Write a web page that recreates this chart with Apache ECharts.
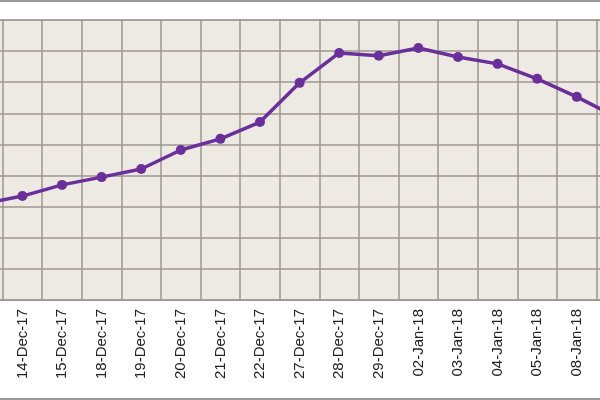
<!DOCTYPE html>
<html>
<head>
<meta charset="utf-8">
<script src="https://cdn.jsdelivr.net/npm/echarts@6/dist/echarts.min.js"></script>
<style>
  html, body { margin: 0; padding: 0; background: #fff; }
  #wrap { position: relative; width: 600px; height: 400px; overflow: hidden; }
  #chart { position: absolute; left: -36.6px; top: 0; width: 680px; height: 400px; }
  .edge { position: absolute; left: 0; width: 600px; height: 2px; background: #999; }
</style>
</head>
<body>
<div id="wrap">
  <div id="chart"></div>
  <div class="edge" style="top:0"></div>
  <div class="edge" style="bottom:0"></div>
</div>
<script>
// dates (first and last fall outside the visible crop)
const categories = ['13-Dec-17', '14-Dec-17', '15-Dec-17', '18-Dec-17', '19-Dec-17', '20-Dec-17',
  '21-Dec-17', '22-Dec-17', '27-Dec-17', '28-Dec-17', '29-Dec-17', '02-Jan-18', '03-Jan-18',
  '04-Jan-18', '05-Jan-18', '08-Jan-18', '09-Jan-18']
// values in grid units (y axis labels are cut off in the reference)
const values = [3.09, 3.34, 3.70, 3.95, 4.21, 4.82, 5.18, 5.72, 6.98, 7.94, 7.85, 8.10, 7.81,
  7.59, 7.11, 6.53, 5.88]

const chart = echarts.init(document.getElementById('chart'))

const gridColor = '#9c978e'

chart.setOption({
  animation: false,
  backgroundColor: '#fff',
  grid: {
    left: 0, top: 20, width: 673.2, height: 280,
    show: true, backgroundColor: '#eceae2', borderColor: gridColor, borderWidth: 1
  },
  xAxis: {
    type: 'category',
    data: categories,
    axisLine: { lineStyle: { color: gridColor } },
    axisTick: { show: false },
    splitLine: { show: true, lineStyle: { color: gridColor, width: 1.5 } },
    axisLabel: {
      rotate: 90, interval: 0, margin: 9,
      fontFamily: 'Liberation Sans', fontSize: 15, color: '#222'
    }
  },
  yAxis: {
    type: 'value', min: 0, max: 9, interval: 1,
    axisLabel: { show: false },
    axisLine: { show: false },
    axisTick: { show: false },
    splitLine: { lineStyle: { color: gridColor, width: 1.5 } }
  },
  series: [{
    type: 'line',
    data: values,
    symbol: 'circle',
    symbolSize: 10,
    lineStyle: { color: '#6b2f9c', width: 3.5 },
    itemStyle: { color: '#6b2f9c' }
  }]
})
</script>
</body>
</html>
